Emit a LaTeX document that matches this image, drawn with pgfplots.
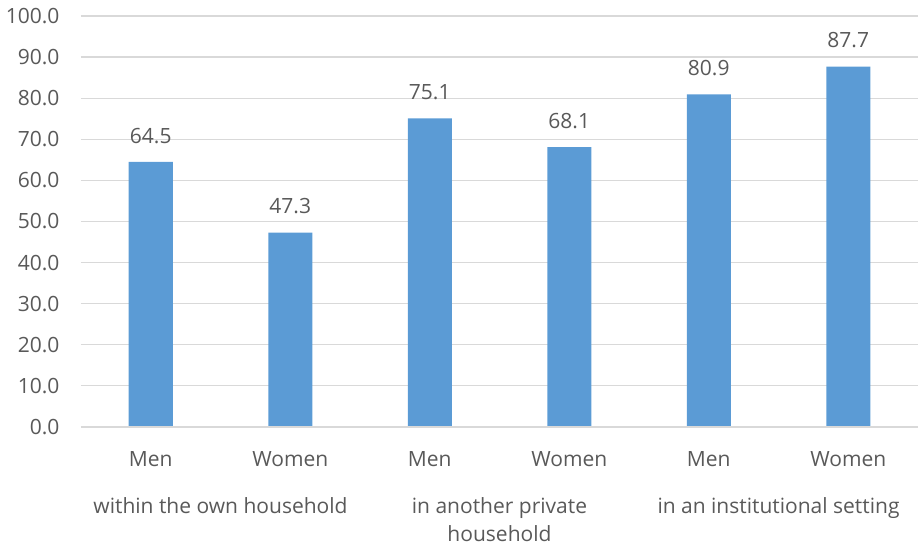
\documentclass[border=0pt]{standalone}
\usepackage{pgfplots}
\pgfplotsset{compat=1.18}
\usepackage{fontspec}
\setmainfont{Open Sans}
\definecolor{barblue}{HTML}{5B9BD5}
\definecolor{txt}{HTML}{595959}
\definecolor{gridc}{HTML}{D9D9D9}
\newcommand{\lf}{\fontsize{21}{24}\selectfont}
\begin{document}
\begin{tikzpicture}
\begin{axis}[
  at={(0,0)}, anchor=south west,
  scale only axis,
  width=837pt, height=411pt,
  xmin=-0.5, xmax=5.5,
  ymin=0, ymax=100,
  ytick={0,10,...,100},
  xtick={0,...,5},
  xticklabels={Men,Women,Men,Women,Men,Women},
  axis line style={draw=none},
  major tick length=0pt,
  ymajorgrids, grid style={gridc, line width=1.2pt},
  yticklabel style={/pgf/number format/fixed, /pgf/number format/fixed zerofill, /pgf/number format/precision=1, font=\lf, text=txt, xshift=-18pt},
  /pgf/number format/assume math mode=true,
  xticklabel style={font=\lf, text=txt, yshift=-21pt},
  clip=false,
  nodes near coords,
  every node near coord/.append style={font=\lf, text=txt, /pgf/number format/fixed, /pgf/number format/fixed zerofill, /pgf/number format/precision=1, /pgf/number format/assume math mode=true, yshift=15pt},
]
\addplot[ybar, bar width=44pt, fill=barblue, draw=none] coordinates {(0,64.5) (1,47.3) (2,75.1) (3,68.1) (4,80.9) (5,87.7)};
\draw[gridc, line width=1.2pt] (axis cs:-0.5,0) -- (axis cs:5.5,0);
\node[font=\fontsize{21}{28}\selectfont, text=txt, align=center, anchor=north] at ([yshift=-67pt]axis cs:0.5,0) {within the own household};
\node[font=\fontsize{21}{28}\selectfont, text=txt, align=center, anchor=north] at ([yshift=-67pt]axis cs:2.5,0) {in another private\\household};
\node[font=\fontsize{21}{28}\selectfont, text=txt, align=center, anchor=north] at ([yshift=-67pt]axis cs:4.5,0) {in an institutional setting};
\end{axis}
\pgfresetboundingbox
\path (-81pt,-118pt) rectangle (837pt,427pt);
\end{tikzpicture}
\end{document}
